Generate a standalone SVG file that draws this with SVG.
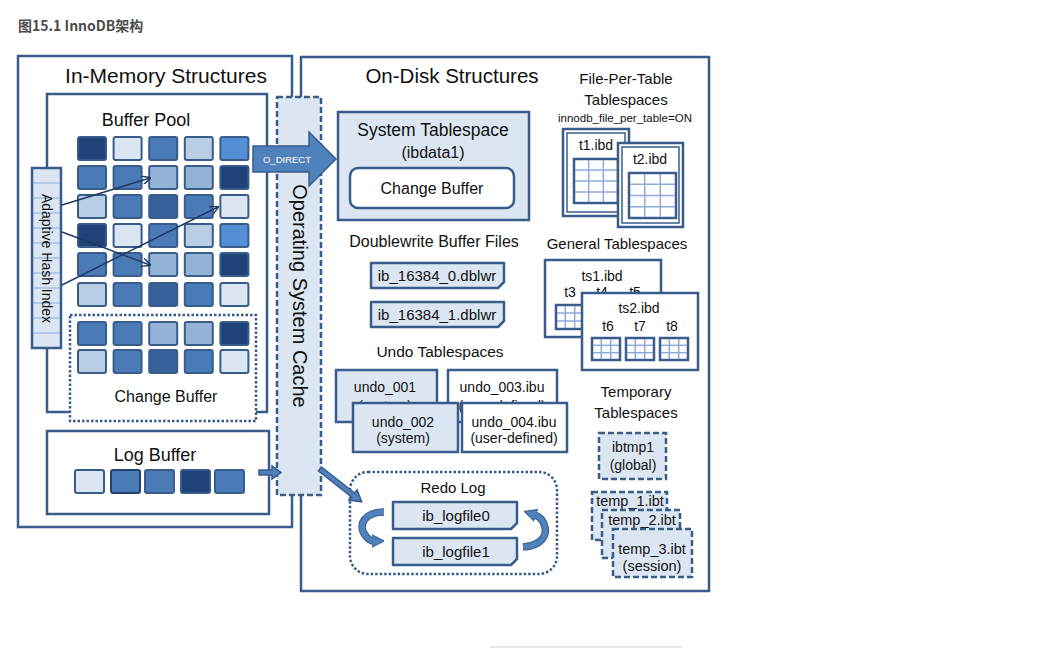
<svg xmlns="http://www.w3.org/2000/svg" width="1062" height="648" viewBox="0 0 1062 648">
<style>
.t{font-family:"Liberation Sans",Arial,sans-serif;fill:#111;text-anchor:middle}
.box{fill:#fff;stroke:#385d8a;stroke-width:2.5}
.lbox{fill:#dce6f2;stroke:#385d8a;stroke-width:2.5}
.thin{fill:none;stroke:#385d8a;stroke-width:1.5}
.cell{stroke:#385d8a;stroke-width:2}
.dash{fill:#dce6f2;stroke:#385d8a;stroke-width:2.5;stroke-dasharray:6 3}
.dot{fill:#fff;stroke:#385d8a;stroke-width:2.5;stroke-dasharray:2.5 2}
.g-out{fill:#fff;stroke:#385d8a;stroke-width:2.5}
.g-in{stroke:#8eaadb;stroke-width:1.5}
.blk{fill:#4f81bd;stroke:#385d8a;stroke-width:1.5}
.D{fill:#1f4378}.M{fill:#4a7bb7}.DM{fill:#36619a}.L{fill:#95b3d7}.LL{fill:#b9cde5}.VL{fill:#dce6f2}.B{fill:#558ed5}
</style>
<defs>
<marker id="vhead" viewBox="0 0 10 10" refX="9" refY="5" markerWidth="9" markerHeight="9" markerUnits="userSpaceOnUse" orient="auto">
<path d="M0,0 L10,5 L0,10" fill="none" stroke="#1f3864" stroke-width="1.6"/>
</marker>
<marker id="bhead" viewBox="0 0 10 10" refX="1" refY="5" markerWidth="2.3" markerHeight="2.6" markerUnits="strokeWidth" orient="auto">
<path d="M0,0 L10,5 L0,10 Z" fill="#4f81bd" stroke="#385d8a" stroke-width="0.8"/>
</marker>
</defs>
<rect width="1062" height="648" fill="#fff"/>

<text x="18" y="31" font-family="'Noto Sans CJK SC','Noto Sans',sans-serif" font-weight="bold" font-size="14" fill="#4d4d4d">图15.1 InnoDB架构</text>

<g id="in-memory">
<rect x="18" y="56" width="274" height="471" class="box"/>
<text class="t" x="166" y="83" font-size="21">In-Memory Structures</text>
</g>

<g id="buffer-pool">
<rect x="47" y="94" width="220" height="318" class="box"/>
<text class="t" x="146" y="126" font-size="18">Buffer Pool</text>
<g class="cell">
<rect x="78" y="137" width="28" height="23" rx="2" class="D"/>
<rect x="113.6" y="137" width="28" height="23" rx="2" class="VL"/>
<rect x="149.2" y="137" width="28" height="23" rx="2" class="M"/>
<rect x="184.8" y="137" width="28" height="23" rx="2" class="LL"/>
<rect x="220.4" y="137" width="28" height="23" rx="2" class="B"/>
<rect x="78" y="166" width="28" height="23" rx="2" class="M"/>
<rect x="113.6" y="166" width="28" height="23" rx="2" class="M"/>
<rect x="149.2" y="166" width="28" height="23" rx="2" class="L"/>
<rect x="184.8" y="166" width="28" height="23" rx="2" class="L"/>
<rect x="220.4" y="166" width="28" height="23" rx="2" class="D"/>
<rect x="78" y="195" width="28" height="23" rx="2" class="LL"/>
<rect x="113.6" y="195" width="28" height="23" rx="2" class="M"/>
<rect x="149.2" y="195" width="28" height="23" rx="2" class="DM"/>
<rect x="184.8" y="195" width="28" height="23" rx="2" class="M"/>
<rect x="220.4" y="195" width="28" height="23" rx="2" class="VL"/>
<rect x="78" y="224" width="28" height="23" rx="2" class="D"/>
<rect x="113.6" y="224" width="28" height="23" rx="2" class="VL"/>
<rect x="149.2" y="224" width="28" height="23" rx="2" class="M"/>
<rect x="184.8" y="224" width="28" height="23" rx="2" class="LL"/>
<rect x="220.4" y="224" width="28" height="23" rx="2" class="B"/>
<rect x="78" y="253" width="28" height="23" rx="2" class="M"/>
<rect x="113.6" y="253" width="28" height="23" rx="2" class="M"/>
<rect x="149.2" y="253" width="28" height="23" rx="2" class="L"/>
<rect x="184.8" y="253" width="28" height="23" rx="2" class="L"/>
<rect x="220.4" y="253" width="28" height="23" rx="2" class="D"/>
<rect x="78" y="283" width="28" height="23" rx="2" class="LL"/>
<rect x="113.6" y="283" width="28" height="23" rx="2" class="M"/>
<rect x="149.2" y="283" width="28" height="23" rx="2" class="DM"/>
<rect x="184.8" y="283" width="28" height="23" rx="2" class="M"/>
<rect x="220.4" y="283" width="28" height="23" rx="2" class="VL"/>
</g>
</g>

<g id="bp-change-buffer">
<rect x="70" y="315" width="186" height="106" class="dot"/>
<g class="cell">
<rect x="78" y="322" width="28" height="23" rx="2" class="M"/>
<rect x="113.6" y="322" width="28" height="23" rx="2" class="M"/>
<rect x="149.2" y="322" width="28" height="23" rx="2" class="L"/>
<rect x="184.8" y="322" width="28" height="23" rx="2" class="L"/>
<rect x="220.4" y="322" width="28" height="23" rx="2" class="D"/>
<rect x="78" y="350" width="28" height="23" rx="2" class="LL"/>
<rect x="113.6" y="350" width="28" height="23" rx="2" class="M"/>
<rect x="149.2" y="350" width="28" height="23" rx="2" class="DM"/>
<rect x="184.8" y="350" width="28" height="23" rx="2" class="M"/>
<rect x="220.4" y="350" width="28" height="23" rx="2" class="VL"/>
</g>
<text class="t" x="166" y="402" font-size="16">Change Buffer</text>
</g>

<g id="adaptive-hash-index">
<rect x="32" y="168" width="29" height="180" class="lbox" stroke-width="2"/>
<g stroke="#8eaadb" stroke-width="1">
<line x1="33" y1="183" x2="60" y2="183"/><line x1="33" y1="198" x2="60" y2="198"/>
<line x1="33" y1="213" x2="60" y2="213"/><line x1="33" y1="228" x2="60" y2="228"/>
<line x1="33" y1="243" x2="60" y2="243"/><line x1="33" y1="258" x2="60" y2="258"/>
<line x1="33" y1="273" x2="60" y2="273"/><line x1="33" y1="288" x2="60" y2="288"/>
<line x1="33" y1="303" x2="60" y2="303"/><line x1="33" y1="318" x2="60" y2="318"/>
<line x1="33" y1="333" x2="60" y2="333"/>
</g>
<text class="t" font-size="14" transform="translate(46.5,258.5) rotate(90)" x="0" y="5">Adaptive Hash Index</text>
</g>

<g id="log-buffer">
<rect x="47" y="431" width="222" height="83" class="box"/>
<text class="t" x="155" y="461" font-size="18">Log Buffer</text>
<g class="cell">
<rect x="75" y="470" width="29" height="23" rx="2" class="VL"/>
<rect x="111" y="470" width="29" height="23" rx="2" class="M" stroke="#24426e"/>
<rect x="145" y="470" width="29" height="23" rx="2" class="M"/>
<rect x="181" y="470" width="29" height="23" rx="2" class="D"/>
<rect x="215" y="470" width="29" height="23" rx="2" class="M"/>
</g>
</g>

<g id="on-disk">
<rect x="301" y="57" width="408" height="534" class="box"/>
<text class="t" x="452" y="83" font-size="20.5">On-Disk Structures</text>
</g>

<g id="os-cache">
<rect x="277" y="97" width="44" height="398" class="dash" stroke-width="2"/>
<text class="t" font-size="20" transform="translate(300,296) rotate(90)" x="0" y="7">Operating System Cache</text>
</g>

<g id="system-tablespace">
<rect x="338" y="112" width="191" height="108" class="lbox"/>
<text class="t" x="433" y="136" font-size="17.5">System Tablespace</text>
<text class="t" x="433" y="158" font-size="16">(ibdata1)</text>
<rect x="350" y="168" width="164" height="40" rx="8" class="box"/>
<text class="t" x="432" y="194" font-size="16">Change Buffer</text>
</g>

<g id="doublewrite">
<text class="t" x="434" y="247" font-size="16">Doublewrite Buffer Files</text>
<path d="M371,263 H504 V282 L498,288 H371 Z" class="lbox" stroke-width="2" stroke-linejoin="round"/>
<text class="t" x="437" y="281" font-size="15">ib_16384_0.dblwr</text>
<path d="M371,302 H504 V321 L498,327 H371 Z" class="lbox" stroke-width="2" stroke-linejoin="round"/>
<text class="t" x="437" y="320" font-size="15">ib_16384_1.dblwr</text>
</g>

<g id="undo">
<text class="t" x="440" y="357" font-size="15.5">Undo Tablespaces</text>
<rect x="336" y="370" width="101" height="52" class="lbox"/>
<text class="t" x="385" y="392" font-size="14">undo_001</text>
<text class="t" x="385" y="411" font-size="14">(system)</text>
<rect x="448" y="370" width="109" height="52" class="box"/>
<text class="t" x="502" y="392" font-size="14">undo_003.ibu</text>
<text class="t" x="502" y="411" font-size="14">(user-defined)</text>
<rect x="353" y="403" width="105" height="49" class="lbox"/>
<text class="t" x="403" y="427" font-size="14">undo_002</text>
<text class="t" x="403" y="443" font-size="14">(system)</text>
<rect x="462" y="403" width="105" height="49" class="box"/>
<text class="t" x="514" y="427" font-size="14">undo_004.ibu</text>
<text class="t" x="514" y="443" font-size="14">(user-defined)</text>
</g>

<g id="file-per-table">
<text class="t" x="626" y="84" font-size="15">File-Per-Table</text>
<text class="t" x="626" y="105" font-size="15">Tablespaces</text>
<text class="t" x="625" y="122" font-size="11.5">innodb_file_per_table=ON</text>
<rect x="563" y="129" width="66" height="87" class="box"/>
<rect x="567" y="133" width="58" height="79" class="thin"/>
<text class="t" x="596" y="150" font-size="14">t1.ibd</text>
<rect x="574" y="159" width="44" height="44" class="g-out"/>
<g class="g-in"><line x1="588.7" y1="160" x2="588.7" y2="202"/><line x1="603.3" y1="160" x2="603.3" y2="202"/><line x1="575" y1="170" x2="617" y2="170"/><line x1="575" y1="181" x2="617" y2="181"/><line x1="575" y1="192" x2="617" y2="192"/></g>
<rect x="618" y="143" width="65" height="84" class="box"/>
<rect x="622" y="147" width="57" height="76" class="thin"/>
<text class="t" x="650" y="164" font-size="14">t2.ibd</text>
<rect x="629" y="173" width="47" height="45" class="g-out"/>
<g class="g-in"><line x1="644.7" y1="174" x2="644.7" y2="217"/><line x1="660.3" y1="174" x2="660.3" y2="217"/><line x1="630" y1="184.25" x2="675" y2="184.25"/><line x1="630" y1="195.5" x2="675" y2="195.5"/><line x1="630" y1="206.75" x2="675" y2="206.75"/></g>
</g>

<g id="general-tablespaces">
<text class="t" x="617" y="249" font-size="15">General Tablespaces</text>
<rect x="545" y="260" width="116" height="77" class="box"/>
<text class="t" x="602" y="281" font-size="14">ts1.ibd</text>
<text class="t" x="570" y="297" font-size="14">t3</text>
<text class="t" x="602" y="297" font-size="14">t4</text>
<text class="t" x="635" y="297" font-size="14">t5</text>
<rect x="556" y="305" width="28" height="24" class="g-out" stroke-width="2"/>
<g class="g-in"><line x1="565.3" y1="306" x2="565.3" y2="328"/><line x1="574.7" y1="306" x2="574.7" y2="328"/><line x1="557" y1="313" x2="583" y2="313"/><line x1="557" y1="321" x2="583" y2="321"/></g>
<rect x="590" y="305" width="28" height="24" class="g-out" stroke-width="2"/>
<rect x="624" y="305" width="28" height="24" class="g-out" stroke-width="2"/>
<rect x="582" y="293" width="116" height="77" class="box"/>
<text class="t" x="639" y="313" font-size="14">ts2.ibd</text>
<text class="t" x="608" y="331" font-size="14">t6</text>
<text class="t" x="640" y="331" font-size="14">t7</text>
<text class="t" x="672" y="331" font-size="14">t8</text>
<rect x="592" y="338" width="28" height="22" class="g-out" stroke-width="2"/>
<g class="g-in"><line x1="601.3" y1="339" x2="601.3" y2="359"/><line x1="610.7" y1="339" x2="610.7" y2="359"/><line x1="593" y1="345.3" x2="619" y2="345.3"/><line x1="593" y1="352.7" x2="619" y2="352.7"/></g>
<rect x="626" y="338" width="28" height="22" class="g-out" stroke-width="2"/>
<g class="g-in"><line x1="635.3" y1="339" x2="635.3" y2="359"/><line x1="644.7" y1="339" x2="644.7" y2="359"/><line x1="627" y1="345.3" x2="653" y2="345.3"/><line x1="627" y1="352.7" x2="653" y2="352.7"/></g>
<rect x="660" y="338" width="28" height="22" class="g-out" stroke-width="2"/>
<g class="g-in"><line x1="669.3" y1="339" x2="669.3" y2="359"/><line x1="678.7" y1="339" x2="678.7" y2="359"/><line x1="661" y1="345.3" x2="687" y2="345.3"/><line x1="661" y1="352.7" x2="687" y2="352.7"/></g>
</g>

<g id="temporary">
<text class="t" x="636" y="397" font-size="15">Temporary</text>
<text class="t" x="636" y="418" font-size="15">Tablespaces</text>
<rect x="599" y="433" width="67" height="46" class="dash"/>
<text class="t" x="633" y="452" font-size="14">ibtmp1</text>
<text class="t" x="633" y="470" font-size="14">(global)</text>
<rect x="592" y="492" width="75" height="48" class="dash"/>
<text class="t" x="630" y="506" font-size="14.5">temp_1.ibt</text>
<rect x="602" y="510" width="78" height="48" class="dash"/>
<text class="t" x="642" y="525" font-size="14.5">temp_2.ibt</text>
<rect x="613" y="529" width="79" height="48" class="dash"/>
<text class="t" x="652" y="554" font-size="14.5">temp_3.ibt</text>
<text class="t" x="652" y="571" font-size="14.5">(session)</text>
</g>

<g id="redo-log">
<rect x="350" y="472" width="207" height="102" rx="18" class="dot"/>
<text class="t" x="453" y="493" font-size="15">Redo Log</text>
<path d="M393,502 H517 V523 L511,529 H393 Z" class="lbox" stroke-width="2" stroke-linejoin="round"/>
<text class="t" x="456" y="521" font-size="15">ib_logfile0</text>
<path d="M393,538 H517 V559 L511,565 H393 Z" class="lbox" stroke-width="2" stroke-linejoin="round"/>
<text class="t" x="456" y="557" font-size="15">ib_logfile1</text>
</g>

<g id="connectors">
<g fill="none" stroke="#1f3864" stroke-width="1.4" marker-end="url(#vhead)">
<line x1="62" y1="205" x2="150" y2="178"/>
<line x1="62" y1="232" x2="150" y2="265"/>
<line x1="62" y1="285" x2="218" y2="207"/>
</g>
<polygon class="blk" points="253,146 309,146 309,132 336,159 309,186 309,172 253,172"/>
<text x="287" y="162.5" font-family="'Liberation Sans',Arial,sans-serif" font-size="9.5" fill="#fff" text-anchor="middle">O_DIRECT</text>
<polygon class="blk" points="259,470 272,470 272,466 281,472.5 272,479 272,475 259,475"/>
<polygon class="blk" transform="translate(320,469) rotate(38.2)" points="0,-2.5 42,-2.5 42,-6.5 53,0 42,6.5 42,2.5 0,2.5"/>
<path d="M384,512 C366,512 357,524 365,535 C368,539 371,541 373,541" fill="none" stroke="#385d8a" stroke-width="7.5"/>
<path d="M384,512 C366,512 357,524 365,535 C368,539 371,541 373,541" fill="none" stroke="#4f81bd" stroke-width="5.5" marker-end="url(#bhead)"/>
<path d="M523,547 C540,546 549,536 544,524 C542,519 538,516 535,515" fill="none" stroke="#385d8a" stroke-width="7.5"/>
<path d="M523,547 C540,546 549,536 544,524 C542,519 538,516 535,515" fill="none" stroke="#4f81bd" stroke-width="5.5" marker-end="url(#bhead)"/>
</g>

<line x1="490" y1="647" x2="682" y2="647" stroke="#d0d0d0" stroke-width="1"/>
</svg>
